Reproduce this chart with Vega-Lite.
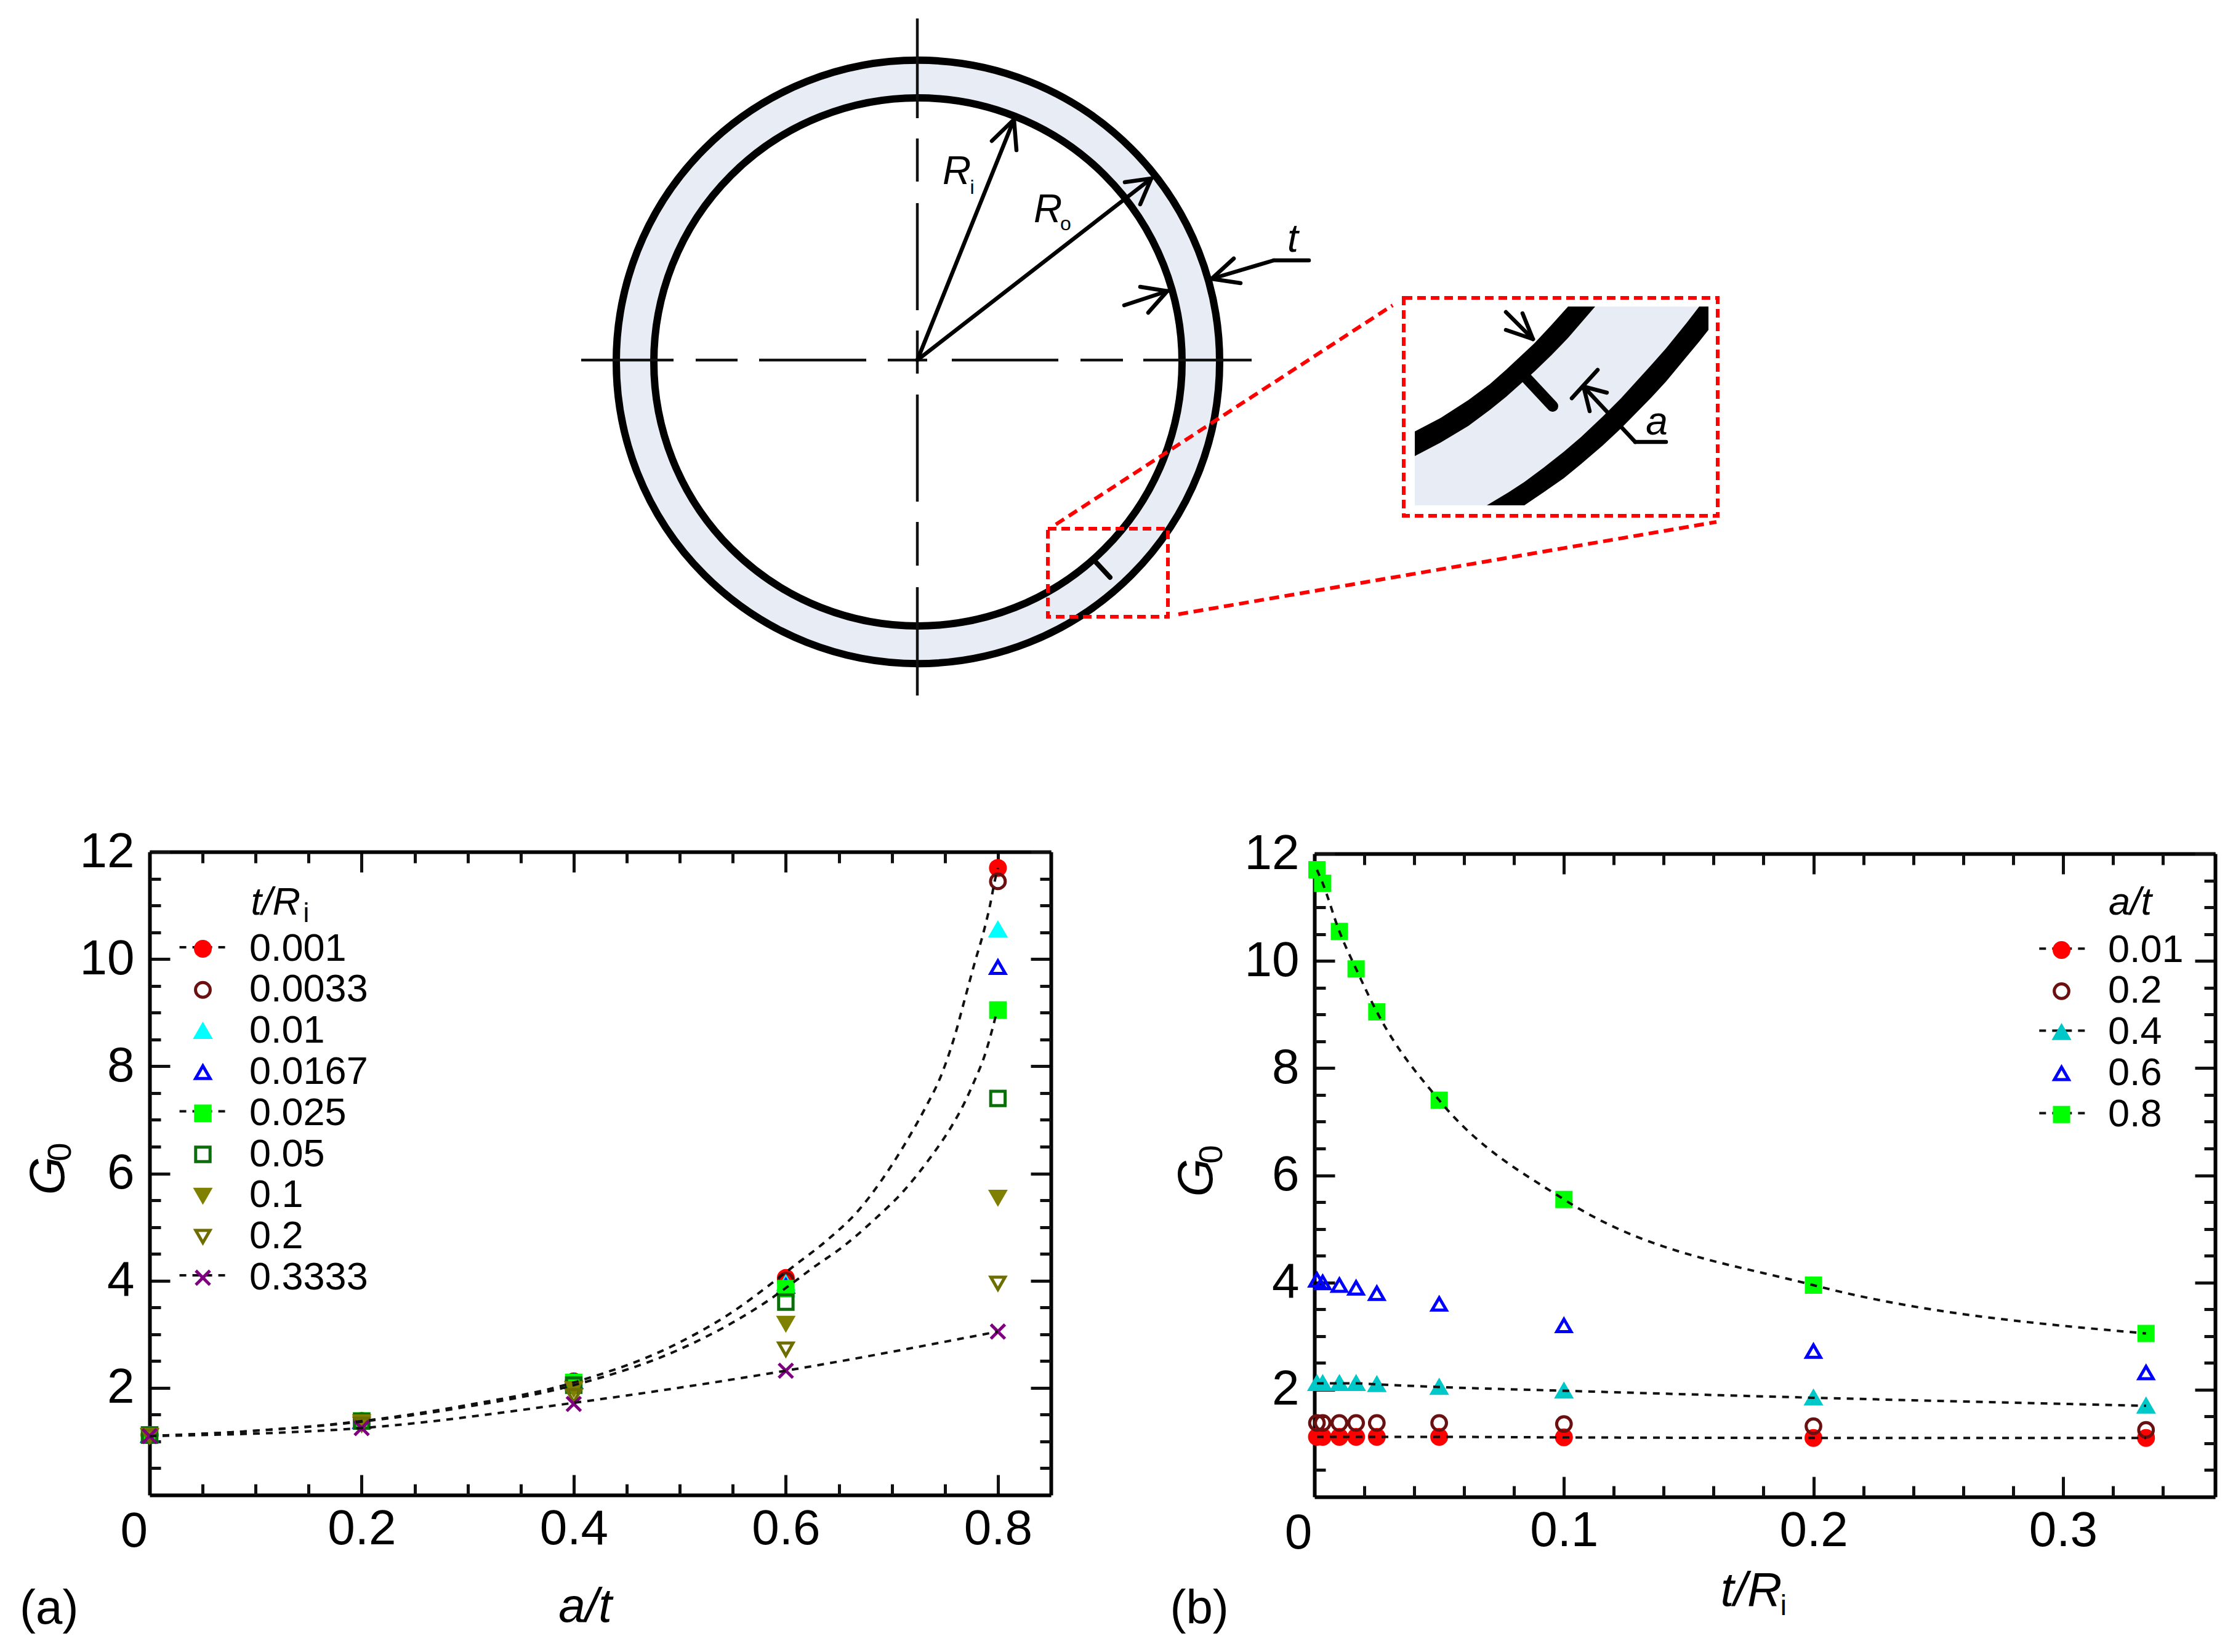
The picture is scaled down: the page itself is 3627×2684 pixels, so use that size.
{
  "$schema": "https://vega.github.io/schema/vega-lite/v6.json",
  "padding": {"left": 32, "top": 0, "right": 0, "bottom": 0},
  "autosize": {"type": "pad"},
  "background": "white",
  "bounds": "flush",
  "spacing": 0,
  "config": {
    "font": "Liberation Sans",
    "view": {"stroke": null},
    "axis": {
      "grid": false,
      "domainColor": "#000000",
      "domainWidth": 6,
      "tickColor": "#111111",
      "tickWidth": 5,
      "labelColor": "#000000",
      "labelFont": "Liberation Sans",
      "labelFontSize": 80,
      "labelOverlap": false,
      "labelFlush": false,
      "titleFont": "Liberation Sans",
      "titleFontWeight": "normal",
      "titleFontStyle": "italic",
      "titleFontSize": 78,
      "titleColor": "#000000",
      "titleBaseline": "alphabetic"
    }
  },
  "datasets": {
    "rings": [
      {"x": 1491, "y": 588}
    ],
    "centerlines": [
      {"x": 1490, "y": 30, "x2": 1490, "y2": 192},
      {"x": 1490, "y": 225, "x2": 1490, "y2": 295},
      {"x": 1490, "y": 330, "x2": 1490, "y2": 504},
      {"x": 1490, "y": 537, "x2": 1490, "y2": 607},
      {"x": 1490, "y": 641, "x2": 1490, "y2": 815},
      {"x": 1490, "y": 848, "x2": 1490, "y2": 919},
      {"x": 1490, "y": 954, "x2": 1490, "y2": 1130},
      {"x": 944, "y": 585, "x2": 1094, "y2": 585},
      {"x": 1130, "y": 585, "x2": 1198, "y2": 585},
      {"x": 1233, "y": 585, "x2": 1407, "y2": 585},
      {"x": 1442, "y": 585, "x2": 1506, "y2": 585},
      {"x": 1546, "y": 585, "x2": 1719, "y2": 585},
      {"x": 1755, "y": 585, "x2": 1824, "y2": 585},
      {"x": 1857, "y": 585, "x2": 2033, "y2": 585}
    ],
    "arrows": [
      {"x": 1490, "y": 585, "x2": 1647, "y2": 194},
      {"x": 1647, "y": 194, "x2": 1611, "y2": 229},
      {"x": 1647, "y": 194, "x2": 1651, "y2": 244},
      {"x": 1490, "y": 585, "x2": 1870, "y2": 290},
      {"x": 1870, "y": 290, "x2": 1827, "y2": 296},
      {"x": 1870, "y": 290, "x2": 1852, "y2": 332},
      {"x": 1826, "y": 496, "x2": 1896, "y2": 473},
      {"x": 1896, "y": 473, "x2": 1852, "y2": 466},
      {"x": 1896, "y": 473, "x2": 1865, "y2": 508},
      {"x": 1968, "y": 453, "x2": 2069, "y2": 423},
      {"x": 2069, "y": 423, "x2": 2126, "y2": 423},
      {"x": 1968, "y": 453, "x2": 2004, "y2": 420},
      {"x": 1968, "y": 453, "x2": 2015, "y2": 460},
      {"x": 2446, "y": 507, "x2": 2490, "y2": 551},
      {"x": 2490, "y": 551, "x2": 2473, "y2": 509},
      {"x": 2490, "y": 551, "x2": 2446, "y2": 536},
      {"x": 2553, "y": 647, "x2": 2595, "y2": 601},
      {"x": 2572, "y": 628, "x2": 2610, "y2": 638},
      {"x": 2572, "y": 628, "x2": 2582, "y2": 668},
      {"x": 2572, "y": 628, "x2": 2656, "y2": 718},
      {"x": 2656, "y": 718, "x2": 2706, "y2": 718}
    ],
    "insetFill": [
      {"x": 2298, "y": 741, "y2": 821},
      {"x": 2340, "y": 719, "y2": 821},
      {"x": 2385, "y": 692, "y2": 821},
      {"x": 2415, "y": 670, "y2": 821},
      {"x": 2450, "y": 641, "y2": 800},
      {"x": 2492, "y": 604, "y2": 771},
      {"x": 2520, "y": 577, "y2": 750},
      {"x": 2547, "y": 549, "y2": 728},
      {"x": 2591, "y": 498, "y2": 688},
      {"x": 2633, "y": 498, "y2": 647},
      {"x": 2683, "y": 498, "y2": 592},
      {"x": 2706, "y": 498, "y2": 566},
      {"x": 2740, "y": 498, "y2": 524},
      {"x": 2760, "y": 498, "y2": 498}
    ],
    "insetInner": [
      {"x": 2298, "y": 701, "y2": 741},
      {"x": 2340, "y": 679, "y2": 719},
      {"x": 2385, "y": 650, "y2": 692},
      {"x": 2420, "y": 624, "y2": 666},
      {"x": 2446, "y": 601, "y2": 645},
      {"x": 2492, "y": 558, "y2": 604},
      {"x": 2520, "y": 528, "y2": 577},
      {"x": 2547, "y": 498, "y2": 549},
      {"x": 2591, "y": 498, "y2": 498}
    ],
    "insetOuter": [
      {"x": 2415, "y": 821, "y2": 821},
      {"x": 2450, "y": 800, "y2": 821},
      {"x": 2476, "y": 783, "y2": 821},
      {"x": 2507, "y": 760, "y2": 800},
      {"x": 2540, "y": 734, "y2": 777},
      {"x": 2568, "y": 710, "y2": 754},
      {"x": 2603, "y": 677, "y2": 724},
      {"x": 2633, "y": 647, "y2": 696},
      {"x": 2683, "y": 592, "y2": 645},
      {"x": 2706, "y": 566, "y2": 620},
      {"x": 2740, "y": 524, "y2": 579},
      {"x": 2760, "y": 498, "y2": 555},
      {"x": 2775, "y": 498, "y2": 536}
    ],
    "cracks": [
      {"x": 1776, "y": 909, "x2": 1803, "y2": 938}
    ],
    "insetCrack": [
      {"x": 2480, "y": 615, "x2": 2522, "y2": 660}
    ],
    "zoomBoxes": [
      {"x": 1702, "y": 859, "x2": 1897, "y2": 1002},
      {"x": 2280, "y": 484, "x2": 2790, "y2": 838}
    ],
    "zoomLeaders": [
      {"x": 1715, "y": 852, "x2": 2262, "y2": 496},
      {"x": 1914, "y": 998, "x2": 2788, "y2": 848}
    ],
    "diagramLabels": [
      {"x": 1554, "y": 299, "label": "R"},
      {"x": 1702, "y": 361, "label": "R"},
      {"x": 2100, "y": 409, "label": "t"},
      {"x": 2691, "y": 706, "label": "a"}
    ],
    "diagramSubs": [
      {"x": 1579, "y": 315, "label": "i"},
      {"x": 1731, "y": 374, "label": "o"}
    ],
    "byThickness": [
      {"t": "0.001", "a": 0, "g": 1.12}, {"t": "0.001", "a": 0.2, "g": 1.38}, {"t": "0.001", "a": 0.4, "g": 2.12}, {"t": "0.001", "a": 0.6, "g": 4.05}, {"t": "0.001", "a": 0.8, "g": 11.7},
      {"t": "0.0033", "a": 0, "g": 1.12}, {"t": "0.0033", "a": 0.2, "g": 1.38}, {"t": "0.0033", "a": 0.4, "g": 2.12}, {"t": "0.0033", "a": 0.6, "g": 4.0}, {"t": "0.0033", "a": 0.8, "g": 11.45},
      {"t": "0.01", "a": 0, "g": 1.12}, {"t": "0.01", "a": 0.2, "g": 1.38}, {"t": "0.01", "a": 0.4, "g": 2.12}, {"t": "0.01", "a": 0.6, "g": 3.95}, {"t": "0.01", "a": 0.8, "g": 10.55},
      {"t": "0.0167", "a": 0, "g": 1.12}, {"t": "0.0167", "a": 0.2, "g": 1.38}, {"t": "0.0167", "a": 0.4, "g": 2.12}, {"t": "0.0167", "a": 0.6, "g": 3.9}, {"t": "0.0167", "a": 0.8, "g": 9.85},
      {"t": "0.025", "a": 0, "g": 1.12}, {"t": "0.025", "a": 0.2, "g": 1.38}, {"t": "0.025", "a": 0.4, "g": 2.1}, {"t": "0.025", "a": 0.6, "g": 3.85}, {"t": "0.025", "a": 0.8, "g": 9.05},
      {"t": "0.05", "a": 0, "g": 1.12}, {"t": "0.05", "a": 0.2, "g": 1.38}, {"t": "0.05", "a": 0.4, "g": 2.05}, {"t": "0.05", "a": 0.6, "g": 3.6}, {"t": "0.05", "a": 0.8, "g": 7.4},
      {"t": "0.1", "a": 0, "g": 1.11}, {"t": "0.1", "a": 0.2, "g": 1.36}, {"t": "0.1", "a": 0.4, "g": 1.98}, {"t": "0.1", "a": 0.6, "g": 3.2}, {"t": "0.1", "a": 0.8, "g": 5.55},
      {"t": "0.2", "a": 0, "g": 1.1}, {"t": "0.2", "a": 0.2, "g": 1.32}, {"t": "0.2", "a": 0.4, "g": 1.85}, {"t": "0.2", "a": 0.6, "g": 2.72}, {"t": "0.2", "a": 0.8, "g": 3.95},
      {"t": "0.3333", "a": 0, "g": 1.1}, {"t": "0.3333", "a": 0.2, "g": 1.25}, {"t": "0.3333", "a": 0.4, "g": 1.7}, {"t": "0.3333", "a": 0.6, "g": 2.32}, {"t": "0.3333", "a": 0.8, "g": 3.05}
    ],
    "curvesA": [
      {"t": "0.001", "a": 0, "g": 1.1}, {"t": "0.001", "a": 0.1, "g": 1.2}, {"t": "0.001", "a": 0.2, "g": 1.38}, {"t": "0.001", "a": 0.3, "g": 1.68}, {"t": "0.001", "a": 0.4, "g": 2.1}, {"t": "0.001", "a": 0.5, "g": 2.85}, {"t": "0.001", "a": 0.55, "g": 3.42}, {"t": "0.001", "a": 0.5866, "g": 3.95}, {"t": "0.001", "a": 0.6061, "g": 4.25}, {"t": "0.001", "a": 0.6392, "g": 4.76}, {"t": "0.001", "a": 0.6685, "g": 5.31}, {"t": "0.001", "a": 0.6909, "g": 5.89}, {"t": "0.001", "a": 0.7114, "g": 6.52}, {"t": "0.001", "a": 0.7309, "g": 7.2}, {"t": "0.001", "a": 0.7465, "g": 7.83}, {"t": "0.001", "a": 0.7592, "g": 8.56}, {"t": "0.001", "a": 0.769, "g": 9.27}, {"t": "0.001", "a": 0.7788, "g": 9.98}, {"t": "0.001", "a": 0.7855, "g": 10.43}, {"t": "0.001", "a": 0.7923, "g": 10.98}, {"t": "0.001", "a": 0.7975, "g": 11.5}, {"t": "0.001", "a": 0.8, "g": 11.7},
      {"t": "0.025", "a": 0, "g": 1.1}, {"t": "0.025", "a": 0.1, "g": 1.2}, {"t": "0.025", "a": 0.2, "g": 1.37}, {"t": "0.025", "a": 0.3, "g": 1.65}, {"t": "0.025", "a": 0.4, "g": 2.05}, {"t": "0.025", "a": 0.5, "g": 2.72}, {"t": "0.025", "a": 0.55, "g": 3.22}, {"t": "0.025", "a": 0.5827, "g": 3.62}, {"t": "0.025", "a": 0.6039, "g": 3.92}, {"t": "0.025", "a": 0.6256, "g": 4.24}, {"t": "0.025", "a": 0.6549, "g": 4.65}, {"t": "0.025", "a": 0.6841, "g": 5.15}, {"t": "0.025", "a": 0.7114, "g": 5.68}, {"t": "0.025", "a": 0.7368, "g": 6.31}, {"t": "0.025", "a": 0.7563, "g": 6.88}, {"t": "0.025", "a": 0.768, "g": 7.3}, {"t": "0.025", "a": 0.7777, "g": 7.72}, {"t": "0.025", "a": 0.7875, "g": 8.2}, {"t": "0.025", "a": 0.7951, "g": 8.72}, {"t": "0.025", "a": 0.7992, "g": 9.04},
      {"t": "0.3333", "a": 0, "g": 1.1}, {"t": "0.3333", "a": 0.2, "g": 1.25}, {"t": "0.3333", "a": 0.4, "g": 1.72}, {"t": "0.3333", "a": 0.6, "g": 2.32}, {"t": "0.3333", "a": 0.8, "g": 3.05}
    ],
    "byDepth": [
      {"a": "0.01", "t": 0.001, "g": 1.12}, {"a": "0.01", "t": 0.0033, "g": 1.12}, {"a": "0.01", "t": 0.01, "g": 1.12}, {"a": "0.01", "t": 0.0167, "g": 1.12}, {"a": "0.01", "t": 0.025, "g": 1.12}, {"a": "0.01", "t": 0.05, "g": 1.12}, {"a": "0.01", "t": 0.1, "g": 1.11}, {"a": "0.01", "t": 0.2, "g": 1.1}, {"a": "0.01", "t": 0.3333, "g": 1.1},
      {"a": "0.2", "t": 0.001, "g": 1.38}, {"a": "0.2", "t": 0.0033, "g": 1.38}, {"a": "0.2", "t": 0.01, "g": 1.38}, {"a": "0.2", "t": 0.0167, "g": 1.38}, {"a": "0.2", "t": 0.025, "g": 1.38}, {"a": "0.2", "t": 0.05, "g": 1.38}, {"a": "0.2", "t": 0.1, "g": 1.36}, {"a": "0.2", "t": 0.2, "g": 1.32}, {"a": "0.2", "t": 0.3333, "g": 1.25},
      {"a": "0.4", "t": 0.001, "g": 2.12}, {"a": "0.4", "t": 0.0033, "g": 2.12}, {"a": "0.4", "t": 0.01, "g": 2.12}, {"a": "0.4", "t": 0.0167, "g": 2.12}, {"a": "0.4", "t": 0.025, "g": 2.1}, {"a": "0.4", "t": 0.05, "g": 2.05}, {"a": "0.4", "t": 0.1, "g": 1.98}, {"a": "0.4", "t": 0.2, "g": 1.85}, {"a": "0.4", "t": 0.3333, "g": 1.7},
      {"a": "0.6", "t": 0.001, "g": 4.05}, {"a": "0.6", "t": 0.0033, "g": 4.0}, {"a": "0.6", "t": 0.01, "g": 3.95}, {"a": "0.6", "t": 0.0167, "g": 3.9}, {"a": "0.6", "t": 0.025, "g": 3.8}, {"a": "0.6", "t": 0.05, "g": 3.6}, {"a": "0.6", "t": 0.1, "g": 3.2}, {"a": "0.6", "t": 0.2, "g": 2.72}, {"a": "0.6", "t": 0.3333, "g": 2.32},
      {"a": "0.8", "t": 0.001, "g": 11.7}, {"a": "0.8", "t": 0.0033, "g": 11.45}, {"a": "0.8", "t": 0.01, "g": 10.55}, {"a": "0.8", "t": 0.0167, "g": 9.85}, {"a": "0.8", "t": 0.025, "g": 9.05}, {"a": "0.8", "t": 0.05, "g": 7.4}, {"a": "0.8", "t": 0.1, "g": 5.55}, {"a": "0.8", "t": 0.2, "g": 3.95}, {"a": "0.8", "t": 0.3333, "g": 3.05}
    ],
    "legendDashA": [
      {"x": 0.0282, "x2": 0.0723, "y": 10.22},
      {"x": 0.0282, "x2": 0.0723, "y": 7.16},
      {"x": 0.0282, "x2": 0.0723, "y": 4.1}
    ],
    "legendDashB": [
      {"x": 0.2905, "x2": 0.3088, "y": 10.23},
      {"x": 0.2905, "x2": 0.3088, "y": 8.7},
      {"x": 0.2905, "x2": 0.3088, "y": 7.16}
    ]
  },
  "vconcat": [
    {
      "width": 3384,
      "height": 1384,
      "encoding": {
        "x": {"field": "x", "type": "quantitative", "scale": {"domain": [243, 3627], "nice": false, "zero": false}, "axis": null},
        "y": {"field": "y", "type": "quantitative", "scale": {"domain": [1384, 0], "nice": false, "zero": false}, "axis": null}
      },
      "layer": [
        {"data": {"name": "rings"}, "mark": {"type": "point", "filled": true, "fill": "#e8edf5", "stroke": "#000000", "strokeWidth": 12, "opacity": 1, "shape": "circle", "size": 960400}},
        {"data": {"name": "rings"}, "mark": {"type": "point", "filled": true, "fill": "#ffffff", "stroke": "#000000", "strokeWidth": 12, "opacity": 1, "shape": "circle", "size": 736164}},
        {"data": {"name": "centerlines"}, "mark": {"type": "rule", "color": "#111111", "strokeWidth": 4.5}, "encoding": {"x2": {"field": "x2"}, "y2": {"field": "y2"}}},
        {"data": {"name": "cracks"}, "mark": {"type": "rule", "color": "#000000", "strokeWidth": 8, "strokeCap": "round"}, "encoding": {"x2": {"field": "x2"}, "y2": {"field": "y2"}}},
        {"data": {"name": "insetFill"}, "mark": {"type": "area", "color": "#e8edf5", "opacity": 1}, "encoding": {"y2": {"field": "y2"}}},
        {"data": {"name": "insetInner"}, "mark": {"type": "area", "color": "#000000", "opacity": 1}, "encoding": {"y2": {"field": "y2"}}},
        {"data": {"name": "insetOuter"}, "mark": {"type": "area", "color": "#000000", "opacity": 1}, "encoding": {"y2": {"field": "y2"}}},
        {"data": {"name": "insetCrack"}, "mark": {"type": "rule", "color": "#000000", "strokeWidth": 18, "strokeCap": "round"}, "encoding": {"x2": {"field": "x2"}, "y2": {"field": "y2"}}},
        {"data": {"name": "arrows"}, "mark": {"type": "rule", "color": "#000000", "strokeWidth": 6.5, "strokeCap": "round"}, "encoding": {"x2": {"field": "x2"}, "y2": {"field": "y2"}}},
        {"data": {"name": "zoomBoxes"}, "mark": {"type": "rect", "fill": null, "stroke": "#ff0000", "strokeWidth": 6, "strokeDash": [14, 8]}, "encoding": {"x2": {"field": "x2"}, "y2": {"field": "y2"}}},
        {"data": {"name": "zoomLeaders"}, "mark": {"type": "rule", "color": "#ff0000", "strokeWidth": 6, "strokeDash": [16, 9]}, "encoding": {"x2": {"field": "x2"}, "y2": {"field": "y2"}}},
        {"data": {"name": "diagramLabels"}, "mark": {"type": "text", "font": "Liberation Sans", "fontStyle": "italic", "fontSize": 64, "align": "center", "baseline": "alphabetic", "color": "#000000"}, "encoding": {"text": {"field": "label"}}},
        {"data": {"name": "diagramSubs"}, "mark": {"type": "text", "font": "Liberation Sans", "fontSize": 32, "align": "center", "baseline": "alphabetic", "color": "#000000"}, "encoding": {"text": {"field": "label"}}}
      ]
    },
    {
      "bounds": "flush",
      "spacing": 428,
      "resolve": {
        "scale": {"fill": "independent", "stroke": "independent", "shape": "independent", "size": "independent"},
        "legend": {"fill": "independent", "stroke": "independent", "shape": "independent", "size": "independent"}
      },
      "hconcat": [
        {
          "width": 1464,
          "height": 1045,
          "resolve": {"axis": {"x": "independent", "y": "independent"}},
          "layer": [
            {
              "data": {"name": "byThickness"},
              "mark": {"type": "point", "filled": true, "strokeWidth": 5, "opacity": 1},
              "encoding": {
                "x": {"field": "a", "type": "quantitative", "scale": {"domain": [0, 0.85], "nice": false, "zero": false}, "axis": {"orient": "bottom", "values": [0.2, 0.4, 0.6, 0.8], "tickSize": -33, "format": ".1f", "labelPadding": 49, "title": "a/t", "titleX": 707, "titleY": 205}},
                "y": {"field": "g", "type": "quantitative", "scale": {"domain": [0, 12], "nice": false, "zero": false}, "axis": {"orient": "left", "values": [2, 4, 6, 8, 10, 12], "tickSize": -33, "labelPadding": 58, "title": "G", "titleFontSize": 80, "titleX": -140, "titleY": 526, "titleAngle": -90, "titleAlign": "center"}},
                "fill": {"field": "t", "type": "nominal", "scale": {"domain": ["0.001", "0.0033", "0.01", "0.0167", "0.025", "0.05", "0.1", "0.2", "0.3333"], "range": ["#ff0000", "transparent", "#00ffff", "transparent", "#00ff00", "transparent", "#808000", "transparent", "transparent"]}, "legend": {"title": null, "orient": "none", "legendX": 55, "legendY": 126, "labelFontSize": 63, "labelFont": "Liberation Sans", "labelColor": "#000000", "labelOffset": 44, "labelLimit": 400, "rowPadding": 2.8, "symbolStrokeWidth": 5, "padding": 0}},
                "stroke": {"field": "t", "type": "nominal", "scale": {"domain": ["0.001", "0.0033", "0.01", "0.0167", "0.025", "0.05", "0.1", "0.2", "0.3333"], "range": ["#ff0000", "#6b1010", "#00ffff", "#0000ff", "#00ff00", "#0a6e0a", "#808000", "#6e6e00", "#7f007f"]}},
                "shape": {"field": "t", "type": "nominal", "scale": {"domain": ["0.001", "0.0033", "0.01", "0.0167", "0.025", "0.05", "0.1", "0.2", "0.3333"], "range": ["circle", "circle", "triangle-up", "triangle-up", "square", "square", "triangle-down", "triangle-down", "M-1,-1L1,1M-1,1L1,-1"]}},
                "size": {"field": "t", "type": "nominal", "scale": {"domain": ["0.001", "0.0033", "0.01", "0.0167", "0.025", "0.05", "0.1", "0.2", "0.3333"], "range": [576, 530, 1150, 900, 625, 576, 1150, 900, 1089]}}
              }
            },
            {
              "data": {"name": "curvesA"},
              "mark": {"type": "line", "color": "#111111", "strokeWidth": 4, "strokeDash": [11, 10], "interpolate": "monotone"},
              "encoding": {
                "detail": {"field": "t"},
                "x": {"field": "a", "type": "quantitative", "axis": {"orient": "bottom", "domain": false, "labels": false, "title": null, "tickSize": -18, "values": [0.05, 0.1, 0.15, 0.25, 0.3, 0.35, 0.45, 0.5, 0.55, 0.65, 0.7, 0.75]}},
                "y": {"field": "g", "type": "quantitative", "axis": {"orient": "left", "domain": false, "labels": false, "title": null, "tickSize": -18, "values": [0.5, 1, 1.5, 2.5, 3, 3.5, 4.5, 5, 5.5, 6.5, 7, 7.5, 8.5, 9, 9.5, 10.5, 11, 11.5]}}
              }
            },
            {
              "data": {"name": "legendDashA"},
              "mark": {"type": "rule", "color": "#111111", "strokeWidth": 4, "strokeDash": [11, 10]},
              "encoding": {
                "x": {"field": "x", "type": "quantitative", "axis": {"orient": "top", "labels": false, "title": null, "tickSize": -33, "values": [0.2, 0.4, 0.6, 0.8]}},
                "x2": {"field": "x2"},
                "y": {"field": "y", "type": "quantitative", "axis": {"orient": "right", "labels": false, "title": null, "tickSize": -33, "values": [2, 4, 6, 8, 10, 12]}}
              }
            },
            {
              "data": {"values": [
                {"x": 0.0955, "y": 10.83, "label": "t/R"}
              ]},
              "mark": {"type": "text", "font": "Liberation Sans", "fontStyle": "italic", "fontSize": 63, "align": "left", "baseline": "alphabetic", "color": "#000000"},
              "encoding": {
                "x": {"field": "x", "type": "quantitative", "axis": {"orient": "top", "domain": false, "labels": false, "title": null, "tickSize": -18, "values": [0.05, 0.1, 0.15, 0.25, 0.3, 0.35, 0.45, 0.5, 0.55, 0.65, 0.7, 0.75]}},
                "y": {"field": "y", "type": "quantitative", "axis": {"orient": "right", "domain": false, "labels": false, "title": null, "tickSize": -18, "values": [0.5, 1, 1.5, 2.5, 3, 3.5, 4.5, 5, 5.5, 6.5, 7, 7.5, 8.5, 9, 9.5, 10.5, 11, 11.5]}},
                "text": {"field": "label"}
              }
            },
            {
              "data": {"values": [
                {"x": 0.1449, "y": 10.69, "label": "i"}
              ]},
              "mark": {"type": "text", "font": "Liberation Sans", "fontSize": 44, "align": "left", "baseline": "alphabetic", "color": "#000000"},
              "encoding": {"x": {"field": "x", "type": "quantitative", "axis": null}, "y": {"field": "y", "type": "quantitative", "axis": null}, "text": {"field": "label"}}
            },
            {
              "data": {"values": [
                {"x": -0.0147, "y": -0.965, "label": "0"}
              ]},
              "mark": {"type": "text", "font": "Liberation Sans", "fontSize": 80, "align": "center", "baseline": "alphabetic", "color": "#000000"},
              "encoding": {"x": {"field": "x", "type": "quantitative", "axis": null}, "y": {"field": "y", "type": "quantitative", "axis": null}, "text": {"field": "label"}}
            },
            {
              "data": {"values": [
                {"x": -0.0948, "y": -2.4, "label": "(a)"}
              ]},
              "mark": {"type": "text", "font": "Liberation Sans", "fontSize": 78, "align": "center", "baseline": "alphabetic", "color": "#000000"},
              "encoding": {"x": {"field": "x", "type": "quantitative", "axis": null}, "y": {"field": "y", "type": "quantitative", "axis": null}, "text": {"field": "label"}}
            },
            {
              "data": {"values": [
                {"x": -0.0746, "y": 6.4, "label": "0"}
              ]},
              "mark": {"type": "text", "font": "Liberation Sans", "fontSize": 54, "angle": 270, "align": "center", "baseline": "alphabetic", "color": "#000000"},
              "encoding": {"x": {"field": "x", "type": "quantitative", "axis": null}, "y": {"field": "y", "type": "quantitative", "axis": null}, "text": {"field": "label"}}
            }
          ]
        },
        {
          "bounds": "flush",
          "spacing": 0,
          "resolve": {
            "scale": {"fill": "independent", "stroke": "independent", "shape": "independent", "size": "independent"},
            "legend": {"fill": "independent", "stroke": "independent", "shape": "independent", "size": "independent"}
          },
          "vconcat": [
            {
              "width": 1463,
              "height": 3,
              "data": {"values": []},
              "mark": {"type": "point"}
            },
            {
              "width": 1463,
              "height": 1045,
              "resolve": {"axis": {"x": "independent", "y": "independent"}},
              "layer": [
                {
                  "data": {"name": "byDepth"},
                  "mark": {"type": "point", "filled": true, "strokeWidth": 5, "opacity": 1},
                  "encoding": {
                    "x": {"field": "t", "type": "quantitative", "scale": {"domain": [0, 0.361], "nice": false, "zero": false}, "axis": {"orient": "bottom", "values": [0.1, 0.2, 0.3], "tickSize": -33, "format": ".1f", "labelPadding": 49, "title": "t/R", "titleX": 709, "titleY": 176}},
                    "y": {"field": "g", "type": "quantitative", "scale": {"domain": [0, 12], "nice": false, "zero": false}, "axis": {"orient": "left", "values": [2, 4, 6, 8, 10, 12], "tickSize": -33, "labelPadding": 58, "title": "G", "titleFontSize": 80, "titleX": -167, "titleY": 526, "titleAngle": -90, "titleAlign": "center"}},
                    "fill": {"field": "a", "type": "nominal", "scale": {"domain": ["0.01", "0.2", "0.4", "0.6", "0.8"], "range": ["#ff0000", "transparent", "#00c8c8", "transparent", "#00ff00"]}, "legend": {"title": null, "orient": "none", "legendX": 1182, "legendY": 125, "labelFontSize": 63, "labelFont": "Liberation Sans", "labelColor": "#000000", "labelOffset": 44, "labelLimit": 400, "rowPadding": 2.8, "symbolStrokeWidth": 5, "padding": 0}},
                    "stroke": {"field": "a", "type": "nominal", "scale": {"domain": ["0.01", "0.2", "0.4", "0.6", "0.8"], "range": ["#ff0000", "#6b1010", "#00c8c8", "#0000ff", "#00ff00"]}},
                    "shape": {"field": "a", "type": "nominal", "scale": {"domain": ["0.01", "0.2", "0.4", "0.6", "0.8"], "range": ["circle", "circle", "triangle-up", "triangle-up", "square"]}},
                    "size": {"field": "a", "type": "nominal", "scale": {"domain": ["0.01", "0.2", "0.4", "0.6", "0.8"], "range": [576, 530, 1150, 900, 625]}}
                  }
                },
                {
                  "data": {"name": "byDepth"},
                  "transform": [{"filter": "datum.a == '0.01' || datum.a == '0.4' || datum.a == '0.8'"}],
                  "mark": {"type": "line", "color": "#111111", "strokeWidth": 4, "strokeDash": [11, 10], "interpolate": "monotone"},
                  "encoding": {
                    "detail": {"field": "a"},
                    "x": {"field": "t", "type": "quantitative", "axis": {"orient": "bottom", "domain": false, "labels": false, "title": null, "tickSize": -18, "values": [0.02, 0.04, 0.06, 0.08, 0.12, 0.14, 0.16, 0.18, 0.22, 0.24, 0.26, 0.28, 0.32, 0.34]}},
                    "y": {"field": "g", "type": "quantitative", "axis": {"orient": "left", "domain": false, "labels": false, "title": null, "tickSize": -18, "values": [0.5, 1, 1.5, 2.5, 3, 3.5, 4.5, 5, 5.5, 6.5, 7, 7.5, 8.5, 9, 9.5, 10.5, 11, 11.5]}}
                  }
                },
                {
                  "data": {"name": "legendDashB"},
                  "mark": {"type": "rule", "color": "#111111", "strokeWidth": 4, "strokeDash": [11, 10]},
                  "encoding": {
                    "x": {"field": "x", "type": "quantitative", "axis": {"orient": "top", "labels": false, "title": null, "tickSize": -33, "values": [0.1, 0.2, 0.3]}},
                    "x2": {"field": "x2"},
                    "y": {"field": "y", "type": "quantitative", "axis": {"orient": "right", "labels": false, "title": null, "tickSize": -33, "values": [2, 4, 6, 8, 10, 12]}}
                  }
                },
                {
                  "data": {"values": [
                    {"x": 0.3183, "y": 10.86, "label": "a/t"}
                  ]},
                  "mark": {"type": "text", "font": "Liberation Sans", "fontStyle": "italic", "fontSize": 63, "align": "left", "baseline": "alphabetic", "color": "#000000"},
                  "encoding": {
                    "x": {"field": "x", "type": "quantitative", "axis": {"orient": "top", "domain": false, "labels": false, "title": null, "tickSize": -18, "values": [0.02, 0.04, 0.06, 0.08, 0.12, 0.14, 0.16, 0.18, 0.22, 0.24, 0.26, 0.28, 0.32, 0.34]}},
                    "y": {"field": "y", "type": "quantitative", "axis": {"orient": "right", "domain": false, "labels": false, "title": null, "tickSize": -18, "values": [0.5, 1, 1.5, 2.5, 3, 3.5, 4.5, 5, 5.5, 6.5, 7, 7.5, 8.5, 9, 9.5, 10.5, 11, 11.5]}},
                    "text": {"field": "label"}
                  }
                },
                {
                  "data": {"values": [
                    {"x": 0.188, "y": -2.21, "label": "i"}
                  ]},
                  "mark": {"type": "text", "font": "Liberation Sans", "fontSize": 46, "align": "center", "baseline": "alphabetic", "color": "#000000"},
                  "encoding": {"x": {"field": "x", "type": "quantitative", "axis": null}, "y": {"field": "y", "type": "quantitative", "axis": null}, "text": {"field": "label"}}
                },
                {
                  "data": {"values": [
                    {"x": -0.0064, "y": -0.97, "label": "0"}
                  ]},
                  "mark": {"type": "text", "font": "Liberation Sans", "fontSize": 80, "align": "center", "baseline": "alphabetic", "color": "#000000"},
                  "encoding": {"x": {"field": "x", "type": "quantitative", "axis": null}, "y": {"field": "y", "type": "quantitative", "axis": null}, "text": {"field": "label"}}
                },
                {
                  "data": {"values": [
                    {"x": -0.0461, "y": -2.36, "label": "(b)"}
                  ]},
                  "mark": {"type": "text", "font": "Liberation Sans", "fontSize": 78, "align": "center", "baseline": "alphabetic", "color": "#000000"},
                  "encoding": {"x": {"field": "x", "type": "quantitative", "axis": null}, "y": {"field": "y", "type": "quantitative", "axis": null}, "text": {"field": "label"}}
                },
                {
                  "data": {"values": [
                    {"x": -0.037, "y": 6.39, "label": "0"}
                  ]},
                  "mark": {"type": "text", "font": "Liberation Sans", "fontSize": 54, "angle": 270, "align": "center", "baseline": "alphabetic", "color": "#000000"},
                  "encoding": {"x": {"field": "x", "type": "quantitative", "axis": null}, "y": {"field": "y", "type": "quantitative", "axis": null}, "text": {"field": "label"}}
                }
              ]
            }
          ]
        }
      ]
    }
  ]
}
